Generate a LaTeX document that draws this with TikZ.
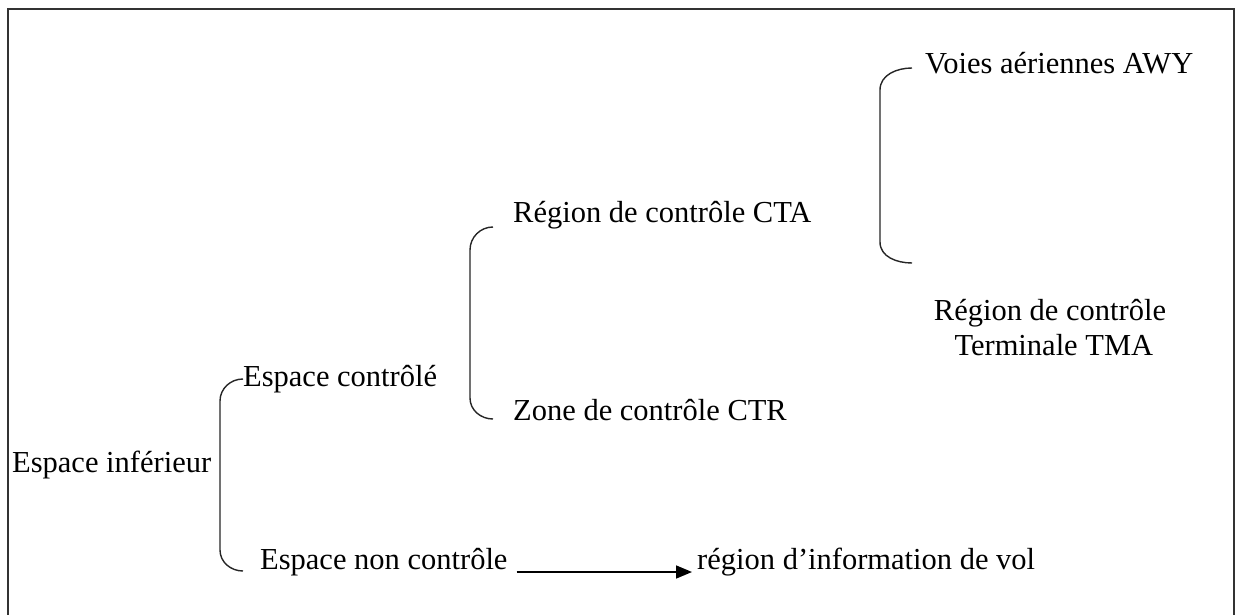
\documentclass[tikz,border=0pt]{standalone}
\usepackage{fontspec}
\setmainfont{Liberation Serif}
\usetikzlibrary{arrows.meta}
\begin{document}
\begin{tikzpicture}[x=1pt,y=-1pt,
  lbl/.style={inner sep=0pt,anchor=base west,font=\fontsize{30.5}{35}\selectfont},
  brace/.style={draw=black!85,line width=1.4pt},
  frame/.style={draw=black!80,line width=2pt}]
\useasboundingbox (0,0) rectangle (1236,615);
% open frame (left, top, right)
\draw[frame] (8,620) -- (8,9) -- (1234,9) -- (1234,620);

% labels
\node[lbl] (inf) at (12,472) {Espace inférieur};
\node[lbl] (ctl) at (243,386) {Espace contrôlé};
\node[lbl] (nctl) at (260,569) {Espace non contrôle};
\node[lbl] (fir) at (697,569) {région d’information de vol};
\node[lbl] (cta) at (513,222) {Région de contrôle CTA};
\node[lbl] (ctr) at (513,420) {Zone de contrôle CTR};
\node[lbl] (awy) at (925,74) {Voies aériennes AWY};
\node[inner sep=0pt,align=center,font=\fontsize{30.5}{35}\selectfont] (tma) at (1050,328)
  {Région de contrôle\\ \ Terminale TMA};

% brace ends
\coordinate (b1t) at (243,379);
\coordinate (b1b) at (243,571);
\coordinate (b2t) at (493,227);
\coordinate (b2b) at (493,419);
\coordinate (b3t) at (912,68);
\coordinate (b3b) at (912,263);

% braces
\draw[brace] (b1t) to[out=180,in=90] (220,401) -- (220,550) to[out=-90,in=180] (b1b);
\draw[brace] (b2t) to[out=180,in=90] (470,250) -- (470,398) to[out=-90,in=180] (b2b);
\draw[brace] (b3t) to[out=180,in=90] (880,90) -- (880,242) to[out=-90,in=180] (b3b);

% arrow to the flight information region
\draw[line width=1.6pt,-{Triangle[length=16pt,width=13pt]}]
  ([xshift=9pt,yshift=-3pt]nctl.base east) -- ([xshift=-5pt,yshift=-3pt]fir.base west);
\end{tikzpicture}
\end{document}
